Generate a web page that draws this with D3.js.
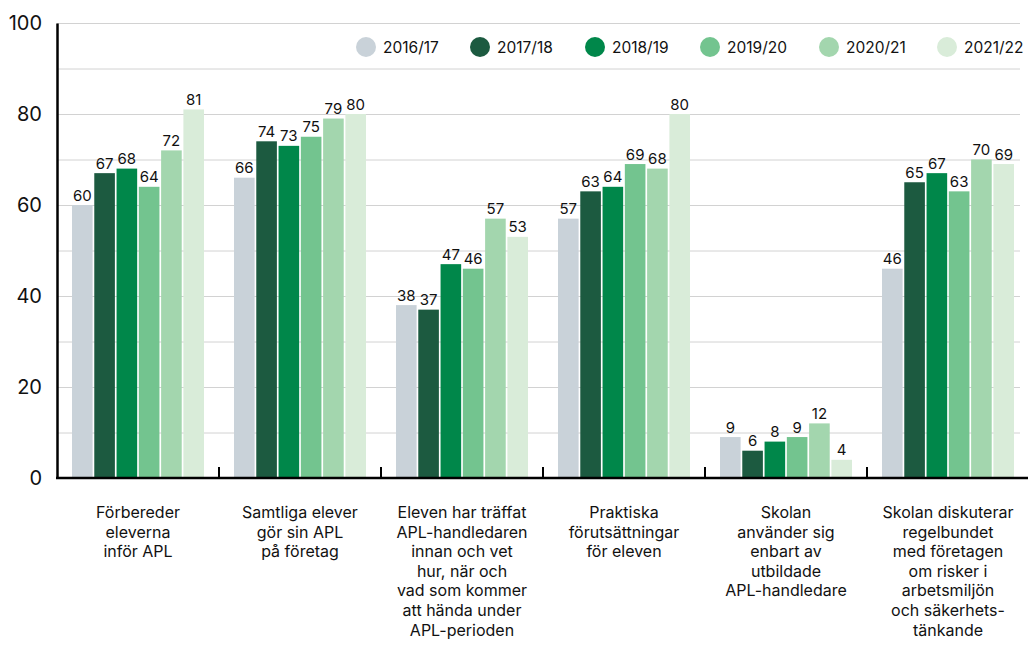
<!DOCTYPE html>
<html>
<head>
<meta charset="utf-8">
<script src="https://cdn.jsdelivr.net/npm/d3@7"></script>
<style>
  body { margin: 0; background: #fff; }
  text { font-family: Inter, "Liberation Sans", sans-serif; fill: #111; }
</style>
</head>
<body>
<div id="chart"></div>
<script>
// Data
const categories = [
    ["Förbereder", "eleverna", "inför APL"],
    ["Samtliga elever", "gör sin APL", "på företag"],
    ["Eleven har träffat", "APL-handledaren", "innan och vet", "hur, när och", "vad som kommer", "att hända under", "APL-perioden"],
    ["Praktiska", "förutsättningar", "för eleven"],
    ["Skolan", "använder sig", "enbart av", "utbildade", "APL-handledare"],
    ["Skolan diskuterar", "regelbundet", "med företagen", "om risker i", "arbetsmiljön", "och säkerhets-", "tänkande"]
];
const years = ["2016/17", "2017/18", "2018/19", "2019/20", "2020/21", "2021/22"];
const v2016 = [60, 66, 38, 57, 9, 46];
const v2017 = [67, 74, 37, 63, 6, 65];
const v2018 = [68, 73, 47, 64, 8, 67];
const v2019 = [64, 75, 46, 69, 9, 63];
const v2020 = [72, 79, 57, 68, 12, 70];
const v2021 = [81, 80, 53, 80, 4, 69];
const yTicks = [0, 20, 40, 60, 80, 100];

const seriesValues = [v2016, v2017, v2018, v2019, v2020, v2021];
const colors = ["#c9d2d9", "#1c5a40", "#00874a", "#73c48f", "#a3d6ae", "#d9ecd9"];

// Dimensions
const width = 1028;
const height = 645;
const margin = { top: 23, right: 0, bottom: 167, left: 57 };

const svg = d3.select("#chart")
    .append("svg")
    .attr("width", width)
    .attr("height", height);

// Scales
const x = d3.scaleBand()
    .domain(d3.range(categories.length))
    .range([margin.left, margin.left + 162 * 6])
    .paddingInner(0)
    .paddingOuter(0);

const xInner = d3.scaleBand()
    .domain(years)
    .range([15, 147])
    .paddingInner(0.075);

const y = d3.scaleLinear()
    .domain([0, 100])
    .range([height - margin.bottom, margin.top]);

// Gridlines every 10
svg.append("g")
    .selectAll("line")
    .data(d3.range(10, 101, 10))
    .enter()
    .append("line")
    .attr("x1", margin.left)
    .attr("x2", 1020)
    .attr("y1", d => y(d) + 0.5)
    .attr("y2", d => y(d) + 0.5)
    .attr("stroke", "#d2d2d2")
    .attr("stroke-width", 1);

// Bars
const rows = [];
categories.forEach((c, i) => {
    years.forEach((yr, j) => {
        rows.push({ cat: i, year: yr, value: seriesValues[j][i], color: colors[j] });
    });
});

svg.selectAll(".bar")
    .data(rows)
    .enter()
    .append("rect")
    .attr("class", "bar")
    .attr("x", d => x(d.cat) + xInner(d.year))
    .attr("y", d => y(d.value))
    .attr("width", xInner.bandwidth())
    .attr("height", d => y(0) - y(d.value))
    .attr("fill", d => d.color);

// Value labels
svg.selectAll(".val")
    .data(rows)
    .enter()
    .append("text")
    .attr("class", "val")
    .attr("x", d => x(d.cat) + xInner(d.year) + xInner.bandwidth() / 2)
    .attr("y", d => y(d.value) - 4.5)
    .attr("text-anchor", "middle")
    .style("font-size", "15px")
    .text(d => d.value);

// Y axis
const yAxis = svg.append("g")
    .attr("transform", `translate(${margin.left},0)`)
    .call(d3.axisLeft(y).tickValues(yTicks).tickSize(0).tickPadding(15));
yAxis.select(".domain").attr("stroke", "#000").attr("stroke-width", 2.5);
yAxis.selectAll("text")
    .style("font-size", "20px")
    .style("font-family", "Inter, 'Liberation Sans', sans-serif")
    .attr("fill", "#111");

// X axis with ticks between groups
const xAxis = svg.append("g")
    .attr("transform", `translate(0,${y(0)})`);
xAxis.append("line")
    .attr("x1", margin.left - 1)
    .attr("x2", width)
    .attr("stroke", "#000")
    .attr("stroke-width", 2.5);
xAxis.selectAll(".tick")
    .data(d3.range(1, categories.length))
    .enter()
    .append("line")
    .attr("x1", d => x(d))
    .attr("x2", d => x(d))
    .attr("y1", 0)
    .attr("y2", -11)
    .attr("stroke", "#000")
    .attr("stroke-width", 2);

// Category labels
const labels = svg.selectAll(".cat")
    .data(categories)
    .enter()
    .append("text")
    .attr("class", "cat")
    .attr("text-anchor", "middle")
    .style("font-size", "16px");
labels.selectAll("tspan")
    .data((d, i) => d.map(line => ({ line, i })))
    .enter()
    .append("tspan")
    .attr("x", d => x(d.i) + x.bandwidth() / 2)
    .attr("y", (d, k) => 518 + k * 19.6)
    .text(d => d.line);

// Legend
const legendX = [366, 480, 595, 710, 829, 947];
const legend = svg.selectAll(".legend")
    .data(years)
    .enter()
    .append("g")
    .attr("class", "legend")
    .attr("transform", (d, i) => `translate(${legendX[i]},47)`);
legend.append("circle")
    .attr("r", 10)
    .attr("fill", (d, i) => colors[i]);
legend.append("text")
    .attr("x", 17)
    .attr("y", 5.5)
    .style("font-size", "15.5px")
    .text(d => d);
</script>
</body>
</html>
